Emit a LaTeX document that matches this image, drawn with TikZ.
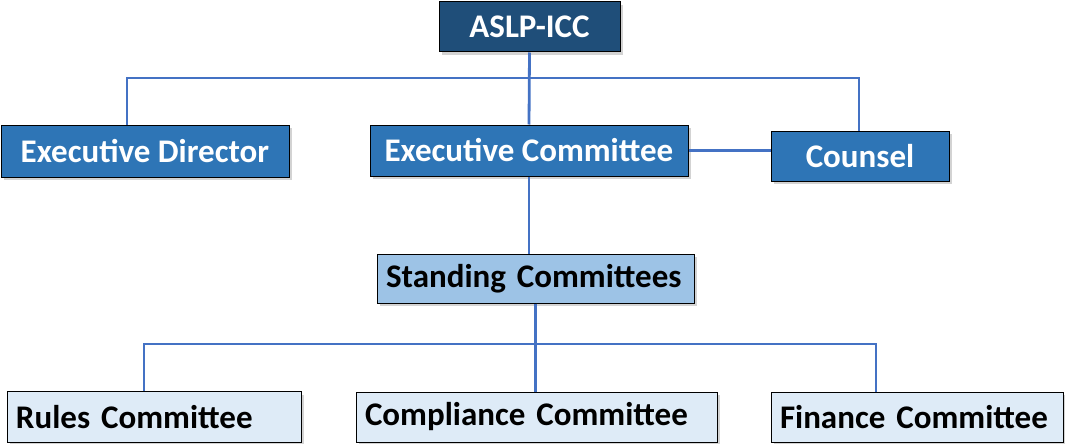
\documentclass[tikz,border=0pt]{standalone}
\usepackage{fontspec}
\setmainfont{Carlito}
\usetikzlibrary{shadows}

\definecolor{dunkelblau}{HTML}{1F4E79}
\definecolor{mittelblau}{HTML}{2E75B6}
\definecolor{hellblau}{HTML}{9DC3E6}
\definecolor{blassblau}{HTML}{DEEBF7}
\definecolor{linienblau}{HTML}{4472C4}

\tikzset{
	kasten/.style={draw=black, line width=1pt, inner sep=0pt,
		font=\fontsize{33}{38}\selectfont\bfseries,
		drop shadow={shadow xshift=3pt, shadow yshift=-3pt, opacity=0.35}},
	oben/.style={kasten, fill=mittelblau, text=white},
	unten/.style={kasten, align=left, inner xsep=9pt},
	linie/.style={draw=linienblau, line width=2.8pt}
}

\begin{document}
\begin{tikzpicture}[x=1pt, y=-1pt]
		\useasboundingbox (0,0) rectangle (1065,444);
		
		% zeichne Kaesten
		\node[oben, fill=dunkelblau, minimum width=181pt, minimum height=50pt] (aslp) at (529.5,27) {ASLP-ICC};
		\node[oben, minimum width=288pt, minimum height=52pt] (exdir) at (145,151) {Executive Director};
		\node[oben, minimum width=318pt, minimum height=51pt] (excom) at (529,150.5) {Executive Committee};
		\node[oben, minimum width=178pt, minimum height=50pt] (counsel) at (860,156) {Counsel};
		\node[unten, fill=hellblau, text width=299pt, minimum height=49pt] (standing) at (535.5,278.5) {Standing Committees};
		\node[unten, fill=blassblau, text width=276pt, minimum height=51pt] (rules) at (154,417) {Rules Committee};
		\node[unten, fill=blassblau, text width=343pt, minimum height=50pt] (compliance) at (536.5,417) {Compliance Committee};
		\node[unten, fill=blassblau, text width=274pt, minimum height=50pt] (finance) at (917,417) {Finance Committee};
		
		% zeichne Hilfspunkte
		\coordinate (links1) at (127,78);
		\coordinate (rechts1) at (859,78);
		\coordinate (links2) at (144,344);
		\coordinate (rechts2) at (876,344);
		
		% zeichne Verbindungen
		\draw[linie] (aslp.south) -- (excom.north);
		\draw[linie] (exdir.north -| links1) -- (links1) -- (rechts1) -- (counsel.north -| rechts1);
		\draw[linie] (excom.east) -- (counsel.west |- excom.east);
		\draw[linie] (excom.south) -- (standing.north -| excom.south);
		\draw[linie] (standing.south) -- (compliance.north -| standing.south);
		\draw[linie] (rules.north -| links2) -- (links2) -- (rechts2) -- (finance.north -| rechts2);
	\end{tikzpicture}
\end{document}
